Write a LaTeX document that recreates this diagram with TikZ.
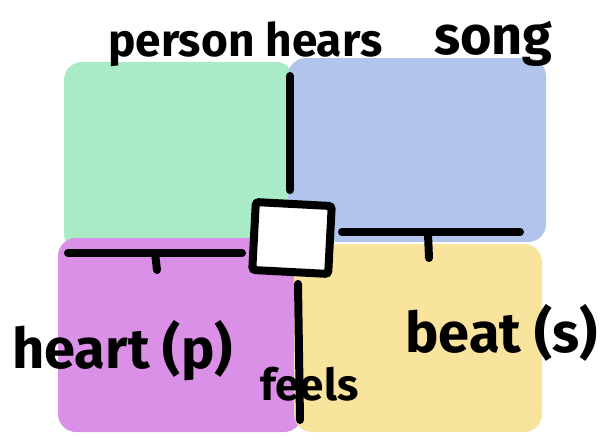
\documentclass[tikz,border=0pt]{standalone}
\usepackage{fontspec}
\setmainfont{Fira Sans}
\definecolor{cgreen}{HTML}{A8EBC6}
\definecolor{cblue}{HTML}{B0C4EC}
\definecolor{cpurple}{HTML}{DA90E6}
\definecolor{cyellow}{HTML}{F8E49C}
\tikzset{
  blob/.style={rounded corners=18pt},
  ink/.style={line width=8pt, line cap=round, line join=round, black},
  label/.style={font=\bfseries, inner sep=0pt, anchor=base west},
}
\newcommand{\fsz}[1]{\fontsize{#1}{#1}\selectfont}
\begin{document}
\begin{tikzpicture}[x=1pt,y=-1pt]
\useasboundingbox (0,0) rectangle (608,440);
% blobs
\fill[cgreen,blob] (64,62) rectangle (294,252);
\fill[cblue,blob] (288,58) rectangle (546,242);
\fill[cpurple,blob] (58,238) rectangle (302,432);
\fill[cyellow,blob] (294,244) rectangle (542,432);
% centre box
\node[draw=black, line width=8pt, fill=white, minimum width=76pt, minimum height=68pt, rounded corners=3pt, rotate=-3] (box) at (292,238) {};
% labels
\node[label, font=\bfseries\fsz{46}] (person) at (108,56) {person hears};
\node[label, font=\bfseries\fsz{54}] (song) at (434,54) {song};
\node[label, font=\bfseries\fsz{56}] (heart) at (12,368) {heart (p)};
\node[label, font=\bfseries\fsz{44}] (feels) at (260,400) {feels};
\node[label, font=\bfseries\fsz{56}] (beat) at (405,352) {beat (s)};
% connectors
\coordinate (topend) at (290,76);
\coordinate (botend) at (300,420);
\coordinate (leftend) at (68,253);
\coordinate (rightend) at (520,232);
\draw[ink] (topend) -- ([yshift=10pt]box.north -| topend);
\draw[ink] ([yshift=-8pt]box.south -| 298,0) -- (botend);
\draw[ink] (leftend) -- ([xshift=-8pt]box.west |- leftend);
\draw[ink] ([xshift=8pt]box.east |- rightend) -- (rightend);
\draw[ink] (155,253) -- (157,270);
\draw[ink] (428,234) -- (429,258);
\end{tikzpicture}
\end{document}
